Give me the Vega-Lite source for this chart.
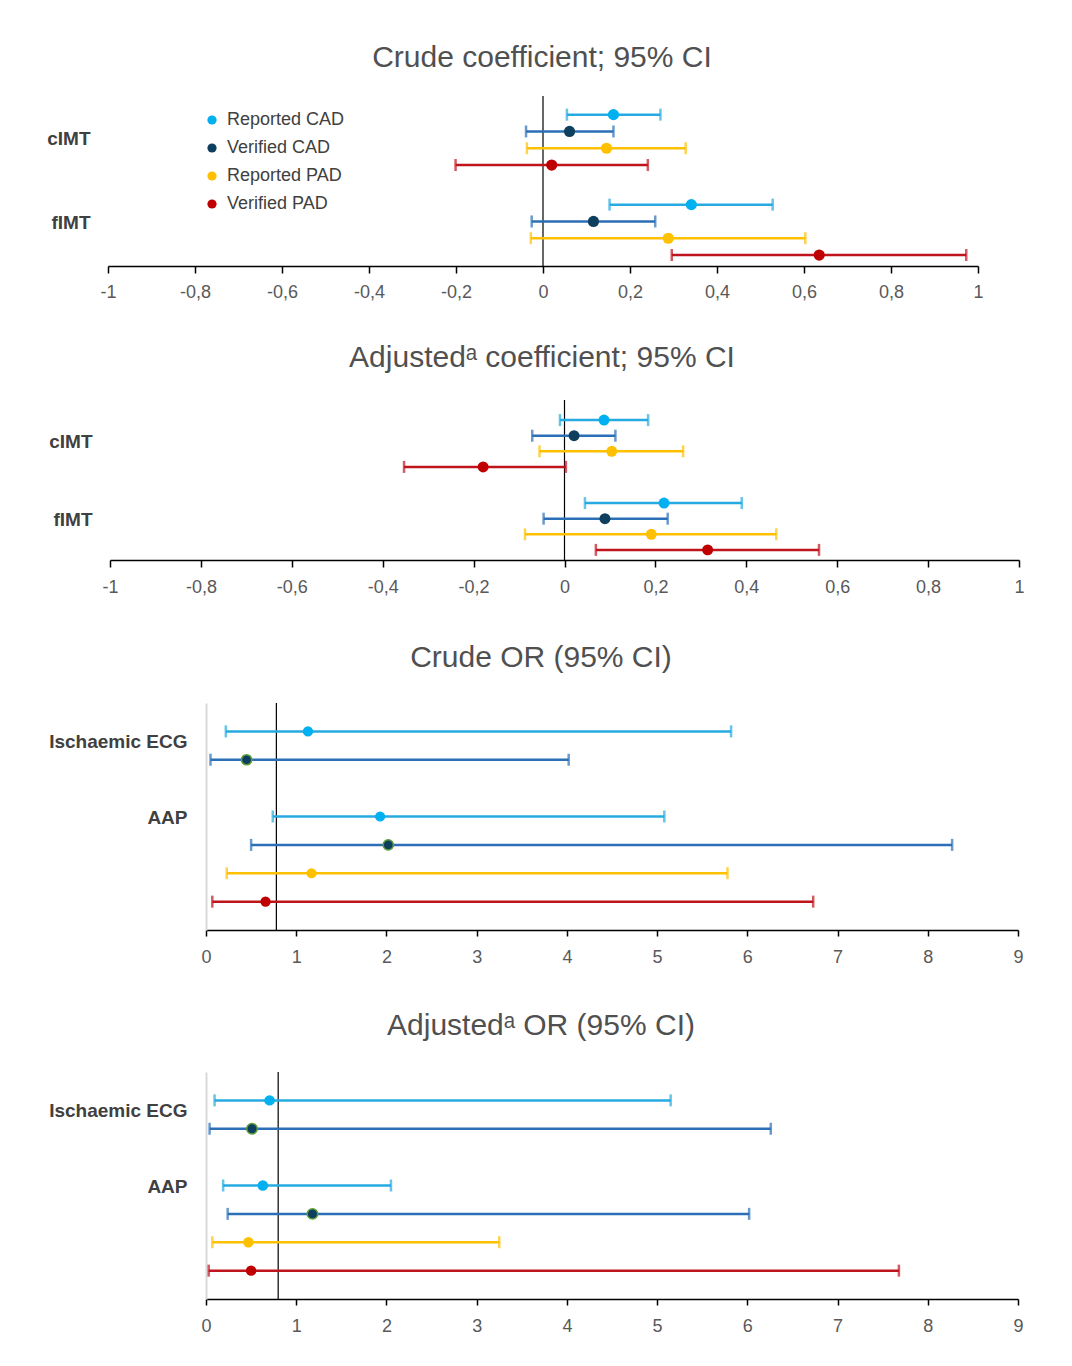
{
  "$schema": "https://vega.github.io/schema/vega-lite/v6.json",
  "padding": {"left": 5, "top": 43, "right": 5, "bottom": 5},
  "background": "white",
  "config": {
    "view": {"stroke": null},
    "font": "Liberation Sans",
    "axis": {"grid": false},
    "title": {"font": "Liberation Sans", "fontSize": 30, "fontWeight": "normal", "color": "#505050", "frame": "group", "anchor": "middle"}
  },
  "datasets": {
    "crude_coef": [
      {"outcome": "cIMT", "series": "Reported CAD", "est": 0.162, "lo": 0.055, "hi": 0.270},
      {"outcome": "cIMT", "series": "Verified CAD", "est": 0.061, "lo": -0.039, "hi": 0.162},
      {"outcome": "cIMT", "series": "Reported PAD", "est": 0.146, "lo": -0.037, "hi": 0.328},
      {"outcome": "cIMT", "series": "Verified PAD", "est": 0.020, "lo": -0.201, "hi": 0.241},
      {"outcome": "fIMT", "series": "Reported CAD", "est": 0.341, "lo": 0.153, "hi": 0.528},
      {"outcome": "fIMT", "series": "Verified CAD", "est": 0.116, "lo": -0.026, "hi": 0.258},
      {"outcome": "fIMT", "series": "Reported PAD", "est": 0.288, "lo": -0.028, "hi": 0.603},
      {"outcome": "fIMT", "series": "Verified PAD", "est": 0.635, "lo": 0.296, "hi": 0.973}
    ],
    "adj_coef": [
      {"outcome": "cIMT", "series": "Reported CAD", "est": 0.087, "lo": -0.010, "hi": 0.184},
      {"outcome": "cIMT", "series": "Verified CAD", "est": 0.021, "lo": -0.071, "hi": 0.112},
      {"outcome": "cIMT", "series": "Reported PAD", "est": 0.104, "lo": -0.055, "hi": 0.261},
      {"outcome": "cIMT", "series": "Verified PAD", "est": -0.179, "lo": -0.353, "hi": 0.003},
      {"outcome": "fIMT", "series": "Reported CAD", "est": 0.219, "lo": 0.045, "hi": 0.390},
      {"outcome": "fIMT", "series": "Verified CAD", "est": 0.089, "lo": -0.046, "hi": 0.227},
      {"outcome": "fIMT", "series": "Reported PAD", "est": 0.191, "lo": -0.087, "hi": 0.466},
      {"outcome": "fIMT", "series": "Verified PAD", "est": 0.315, "lo": 0.069, "hi": 0.560}
    ],
    "crude_or": [
      {"row": "Ischaemic ECG / Reported CAD", "series": "Reported CAD", "est": 1.13, "lo": 0.22, "hi": 5.82},
      {"row": "Ischaemic ECG / Verified CAD", "series": "Verified CAD", "est": 0.45, "lo": 0.05, "hi": 4.02},
      {"row": "AAP / Reported CAD", "series": "Reported CAD", "est": 1.93, "lo": 0.74, "hi": 5.08},
      {"row": "AAP / Verified CAD", "series": "Verified CAD", "est": 2.02, "lo": 0.50, "hi": 8.27},
      {"row": "AAP / Reported PAD", "series": "Reported PAD", "est": 1.17, "lo": 0.23, "hi": 5.78},
      {"row": "AAP / Verified PAD", "series": "Verified PAD", "est": 0.66, "lo": 0.07, "hi": 6.73}
    ],
    "adj_or": [
      {"row": "Ischaemic ECG / Reported CAD", "series": "Reported CAD", "est": 0.705, "lo": 0.095, "hi": 5.15},
      {"row": "Ischaemic ECG / Verified CAD", "series": "Verified CAD", "est": 0.51, "lo": 0.04, "hi": 6.26},
      {"row": "AAP / Reported CAD", "series": "Reported CAD", "est": 0.63, "lo": 0.19, "hi": 2.05},
      {"row": "AAP / Verified CAD", "series": "Verified CAD", "est": 1.18, "lo": 0.24, "hi": 6.02},
      {"row": "AAP / Reported PAD", "series": "Reported PAD", "est": 0.47, "lo": 0.07, "hi": 3.25},
      {"row": "AAP / Verified PAD", "series": "Verified PAD", "est": 0.50, "lo": 0.03, "hi": 7.68}
    ]
  },
  "resolve": {"scale": {"x": "independent", "y": "independent", "yOffset": "independent", "fill": "independent"}},
  "spacing": 47,
  "vconcat": [
    {
      "spacing": 42,
      "resolve": {"scale": {"x": "independent", "y": "independent", "yOffset": "independent", "fill": "independent"}},
      "vconcat": [
        {
          "spacing": 0,
          "hconcat": [
            {"width": 41, "height": 1, "data": {"values": []}, "mark": "point"},
            {
              "width": 870, "height": 170,
              "title": {"text": "Crude coefficient; 95% CI", "offset": 22, "dx": -1},
              "data": {"name": "crude_coef"},
              "layer": [
                {
                  "data": {"values": [{}]},
                  "mark": {"type": "rule", "color": "#000000", "strokeWidth": 1.2},
                  "encoding": {
                    "x": {"datum": 0, "type": "quantitative", "scale": {"domain": [-1, 1], "nice": false, "zero": false},
                      "axis": {"values": [-1, -0.8, -0.6, -0.4, -0.2, 0, 0.2, 0.4, 0.6, 0.8, 1], "labelExpr": "replace(toString(datum.value), '.', ',')", "title": null, "grid": false, "domainColor": "#000000", "domainWidth": 1.5, "tickColor": "#000000", "tickWidth": 1.5, "tickSize": 7, "labelFontSize": 18, "labelColor": "#595959", "labelPadding": 10, "labelFlush": false}}
                  }
                },
                {
                  "mark": {"type": "rule", "strokeWidth": 2.5},
                  "encoding": {
                    "x": {"field": "lo", "type": "quantitative"},
                    "x2": {"field": "hi"},
                    "y": {"field": "outcome", "type": "nominal", "sort": null,
                      "scale": {"type": "band", "domain": ["cIMT", "fIMT"], "paddingInner": 0.2533, "paddingOuter": 0.0711, "align": 0.8},
                      "axis": {"title": null, "ticks": false, "domain": false, "labelFontSize": 19, "labelFontWeight": "bold", "labelColor": "#404040", "labelPadding": 18, "labelOffset": {"condition": {"test": "datum.value === 'fIMT'", "value": -7}, "value": -0.5}}},
                    "yOffset": {"field": "series", "type": "nominal", "scale": {"domain": ["Reported CAD", "Verified CAD", "Reported PAD", "Verified PAD"], "paddingInner": 0, "paddingOuter": 0}},
                    "color": {"condition": [{"test": "datum.series === 'Reported CAD'", "value": "#25AAE1"}, {"test": "datum.series === 'Verified CAD'", "value": "#2B6FB6"}, {"test": "datum.series === 'Reported PAD'", "value": "#FFC000"}], "value": "#C0141C"}
                  }
                },
                {
                  "mark": {"type": "tick", "thickness": 2.5, "size": 12},
                  "encoding": {
                    "x": {"field": "lo", "type": "quantitative"},
                    "y": {"field": "outcome", "type": "nominal", "sort": null},
                    "yOffset": {"field": "series", "type": "nominal"},
                    "color": {"condition": [{"test": "datum.series === 'Reported CAD'", "value": "#25AAE1"}, {"test": "datum.series === 'Verified CAD'", "value": "#2B6FB6"}, {"test": "datum.series === 'Reported PAD'", "value": "#FFC000"}], "value": "#C0141C"}
                  }
                },
                {
                  "mark": {"type": "tick", "thickness": 2.5, "size": 12},
                  "encoding": {
                    "x": {"field": "hi", "type": "quantitative"},
                    "y": {"field": "outcome", "type": "nominal", "sort": null},
                    "yOffset": {"field": "series", "type": "nominal"},
                    "color": {"condition": [{"test": "datum.series === 'Reported CAD'", "value": "#25AAE1"}, {"test": "datum.series === 'Verified CAD'", "value": "#2B6FB6"}, {"test": "datum.series === 'Reported PAD'", "value": "#FFC000"}], "value": "#C0141C"}
                  }
                },
                {
                  "mark": {"type": "point", "filled": true, "size": 125, "opacity": 1},
                  "encoding": {
                    "x": {"field": "est", "type": "quantitative"},
                    "y": {"field": "outcome", "type": "nominal", "sort": null},
                    "yOffset": {"field": "series", "type": "nominal"},
                    "fill": {"field": "series", "type": "nominal", "scale": {"domain": ["Reported CAD", "Verified CAD", "Reported PAD", "Verified PAD"], "range": ["#00B0F0", "#0F3F5E", "#FFC000", "#C00000"]},
                      "legend": {"orient": "none", "legendX": 198, "legendY": 15, "title": null, "symbolType": "circle", "symbolSize": 85, "symbolStrokeWidth": 0, "labelFontSize": 18, "labelColor": "#404040", "labelOffset": 6, "rowPadding": 10, "padding": 0}}
                  }
                }
              ]
            }
          ]
        },
        {
          "spacing": 0,
          "hconcat": [
            {"width": 43, "height": 1, "data": {"values": []}, "mark": "point"},
            {
              "width": 909, "height": 160,
              "title": {"text": "Adjustedᵃ coefficient; 95% CI", "offset": 26, "dx": -22.5},
              "data": {"name": "adj_coef"},
              "layer": [
                {
                  "data": {"values": [{}]},
                  "mark": {"type": "rule", "color": "#000000", "strokeWidth": 1.2},
                  "encoding": {
                    "x": {"datum": 0, "type": "quantitative", "scale": {"domain": [-1, 1], "nice": false, "zero": false},
                      "axis": {"values": [-1, -0.8, -0.6, -0.4, -0.2, 0, 0.2, 0.4, 0.6, 0.8, 1], "labelExpr": "replace(toString(datum.value), '.', ',')", "title": null, "grid": false, "domainColor": "#000000", "domainWidth": 1.5, "tickColor": "#000000", "tickWidth": 1.5, "tickSize": 7, "labelFontSize": 18, "labelColor": "#595959", "labelPadding": 11, "labelFlush": false}}
                  }
                },
                {
                  "mark": {"type": "rule", "strokeWidth": 2.5},
                  "encoding": {
                    "x": {"field": "lo", "type": "quantitative"},
                    "x2": {"field": "hi"},
                    "y": {"field": "outcome", "type": "nominal", "sort": null,
                      "scale": {"type": "band", "domain": ["cIMT", "fIMT"], "paddingInner": 0.248, "paddingOuter": 0.088, "align": 0.842},
                      "axis": {"title": null, "ticks": false, "domain": false, "labelFontSize": 19, "labelFontWeight": "bold", "labelColor": "#404040", "labelPadding": 18, "labelOffset": {"condition": {"test": "datum.value === 'fIMT'", "value": -6.5}, "value": -1.5}}},
                    "yOffset": {"field": "series", "type": "nominal", "scale": {"domain": ["Reported CAD", "Verified CAD", "Reported PAD", "Verified PAD"], "paddingInner": 0, "paddingOuter": 0}},
                    "color": {"condition": [{"test": "datum.series === 'Reported CAD'", "value": "#25AAE1"}, {"test": "datum.series === 'Verified CAD'", "value": "#2B6FB6"}, {"test": "datum.series === 'Reported PAD'", "value": "#FFC000"}], "value": "#C0141C"}
                  }
                },
                {
                  "mark": {"type": "tick", "thickness": 2.5, "size": 12},
                  "encoding": {
                    "x": {"field": "lo", "type": "quantitative"},
                    "y": {"field": "outcome", "type": "nominal", "sort": null},
                    "yOffset": {"field": "series", "type": "nominal"},
                    "color": {"condition": [{"test": "datum.series === 'Reported CAD'", "value": "#25AAE1"}, {"test": "datum.series === 'Verified CAD'", "value": "#2B6FB6"}, {"test": "datum.series === 'Reported PAD'", "value": "#FFC000"}], "value": "#C0141C"}
                  }
                },
                {
                  "mark": {"type": "tick", "thickness": 2.5, "size": 12},
                  "encoding": {
                    "x": {"field": "hi", "type": "quantitative"},
                    "y": {"field": "outcome", "type": "nominal", "sort": null},
                    "yOffset": {"field": "series", "type": "nominal"},
                    "color": {"condition": [{"test": "datum.series === 'Reported CAD'", "value": "#25AAE1"}, {"test": "datum.series === 'Verified CAD'", "value": "#2B6FB6"}, {"test": "datum.series === 'Reported PAD'", "value": "#FFC000"}], "value": "#C0141C"}
                  }
                },
                {
                  "mark": {"type": "point", "filled": true, "size": 120, "opacity": 1},
                  "encoding": {
                    "x": {"field": "est", "type": "quantitative"},
                    "y": {"field": "outcome", "type": "nominal", "sort": null},
                    "yOffset": {"field": "series", "type": "nominal"},
                    "fill": {"field": "series", "type": "nominal", "scale": {"domain": ["Reported CAD", "Verified CAD", "Reported PAD", "Verified PAD"], "range": ["#00B0F0", "#0F3F5E", "#FFC000", "#C00000"]}, "legend": null}
                  }
                }
              ]
            }
          ]
        }
      ]
    },
    {
      "spacing": 45,
      "resolve": {"scale": {"x": "independent", "y": "independent", "fill": "independent"}},
      "vconcat": [
        {
          "spacing": 0,
          "hconcat": [
            {"width": 43, "height": 1, "data": {"values": []}, "mark": "point"},
            {
              "width": 812, "height": 227,
              "title": {"text": "Crude OR (95% CI)", "offset": 29, "dx": -71},
              "data": {"name": "crude_or"},
              "layer": [
                {
                  "data": {"values": [{}]},
                  "mark": {"type": "rule", "color": "#000000", "strokeWidth": 1.2},
                  "encoding": {
                    "x": {"datum": 0.78, "type": "quantitative", "scale": {"domain": [0, 9], "nice": false, "zero": false},
                      "axis": {"values": [0, 1, 2, 3, 4, 5, 6, 7, 8, 9], "format": "d", "title": null, "grid": false, "domainColor": "#000000", "domainWidth": 1.5, "tickColor": "#000000", "tickWidth": 1.5, "tickSize": 6, "labelFontSize": 18, "labelColor": "#595959", "labelPadding": 12, "labelFlush": false}}
                  }
                },
                {
                  "mark": {"type": "rule", "strokeWidth": 2.5},
                  "encoding": {
                    "x": {"field": "lo", "type": "quantitative"},
                    "x2": {"field": "hi"},
                    "y": {"field": "row", "type": "nominal", "sort": null,
                      "scale": {"type": "point", "domain": ["Ischaemic ECG / Reported CAD", "Ischaemic ECG / Verified CAD", "gap", "AAP / Reported CAD", "AAP / Verified CAD", "AAP / Reported PAD", "AAP / Verified PAD"], "padding": 1.054},
                      "axis": {"title": null, "ticks": false, "domain": true, "domainColor": "#D9D9D9", "domainWidth": 2, "labelExpr": "datum.value === 'Ischaemic ECG / Reported CAD' ? 'Ischaemic ECG' : datum.value === 'AAP / Reported CAD' ? 'AAP' : ''", "labelFontSize": 19, "labelFontWeight": "bold", "labelColor": "#404040", "labelPadding": 19, "labelOffset": {"condition": {"test": "datum.value === 'Ischaemic ECG / Reported CAD'", "value": 9.7}, "value": 0.7}}},
                    "color": {"condition": [{"test": "datum.series === 'Reported CAD'", "value": "#25AAE1"}, {"test": "datum.series === 'Verified CAD'", "value": "#2B6FB6"}, {"test": "datum.series === 'Reported PAD'", "value": "#FFC000"}], "value": "#C0141C"}
                  }
                },
                {
                  "mark": {"type": "tick", "thickness": 2.5, "size": 12},
                  "encoding": {
                    "x": {"field": "lo", "type": "quantitative"},
                    "y": {"field": "row", "type": "nominal", "sort": null},
                    "color": {"condition": [{"test": "datum.series === 'Reported CAD'", "value": "#25AAE1"}, {"test": "datum.series === 'Verified CAD'", "value": "#2B6FB6"}, {"test": "datum.series === 'Reported PAD'", "value": "#FFC000"}], "value": "#C0141C"}
                  }
                },
                {
                  "mark": {"type": "tick", "thickness": 2.5, "size": 12},
                  "encoding": {
                    "x": {"field": "hi", "type": "quantitative"},
                    "y": {"field": "row", "type": "nominal", "sort": null},
                    "color": {"condition": [{"test": "datum.series === 'Reported CAD'", "value": "#25AAE1"}, {"test": "datum.series === 'Verified CAD'", "value": "#2B6FB6"}, {"test": "datum.series === 'Reported PAD'", "value": "#FFC000"}], "value": "#C0141C"}
                  }
                },
                {
                  "mark": {"type": "point", "filled": true, "size": 105, "opacity": 1, "strokeWidth": 1.5},
                  "encoding": {
                    "x": {"field": "est", "type": "quantitative"},
                    "y": {"field": "row", "type": "nominal", "sort": null},
                    "fill": {"field": "series", "type": "nominal", "scale": {"domain": ["Reported CAD", "Verified CAD", "Reported PAD", "Verified PAD"], "range": ["#00B0F0", "#0F3F5E", "#FFC000", "#C00000"]}, "legend": null},
                    "stroke": {"condition": {"test": "datum.series === 'Verified CAD'", "value": "#5E9E3C"}, "value": "transparent"}
                  }
                }
              ]
            }
          ]
        },
        {
          "spacing": 0,
          "hconcat": [
            {"width": 43, "height": 1, "data": {"values": []}, "mark": "point"},
            {
              "width": 812, "height": 227,
              "title": {"text": "Adjustedᵃ OR (95% CI)", "offset": 30, "dx": -71},
              "data": {"name": "adj_or"},
              "layer": [
                {
                  "data": {"values": [{}]},
                  "mark": {"type": "rule", "color": "#000000", "strokeWidth": 1.2},
                  "encoding": {
                    "x": {"datum": 0.8, "type": "quantitative", "scale": {"domain": [0, 9], "nice": false, "zero": false},
                      "axis": {"values": [0, 1, 2, 3, 4, 5, 6, 7, 8, 9], "format": "d", "title": null, "grid": false, "domainColor": "#000000", "domainWidth": 1.5, "tickColor": "#000000", "tickWidth": 1.5, "tickSize": 6, "labelFontSize": 18, "labelColor": "#595959", "labelPadding": 12, "labelFlush": false}}
                  }
                },
                {
                  "mark": {"type": "rule", "strokeWidth": 2.5},
                  "encoding": {
                    "x": {"field": "lo", "type": "quantitative"},
                    "x2": {"field": "hi"},
                    "y": {"field": "row", "type": "nominal", "sort": null,
                      "scale": {"type": "point", "domain": ["Ischaemic ECG / Reported CAD", "Ischaemic ECG / Verified CAD", "gap", "AAP / Reported CAD", "AAP / Verified CAD", "AAP / Reported PAD", "AAP / Verified PAD"], "padding": 1.054},
                      "axis": {"title": null, "ticks": false, "domain": true, "domainColor": "#D9D9D9", "domainWidth": 2, "labelExpr": "datum.value === 'Ischaemic ECG / Reported CAD' ? 'Ischaemic ECG' : datum.value === 'AAP / Reported CAD' ? 'AAP' : ''", "labelFontSize": 19, "labelFontWeight": "bold", "labelColor": "#404040", "labelPadding": 19, "labelOffset": {"condition": {"test": "datum.value === 'Ischaemic ECG / Reported CAD'", "value": 9.7}, "value": 0.7}}},
                    "color": {"condition": [{"test": "datum.series === 'Reported CAD'", "value": "#25AAE1"}, {"test": "datum.series === 'Verified CAD'", "value": "#2B6FB6"}, {"test": "datum.series === 'Reported PAD'", "value": "#FFC000"}], "value": "#C0141C"}
                  }
                },
                {
                  "mark": {"type": "tick", "thickness": 2.5, "size": 12},
                  "encoding": {
                    "x": {"field": "lo", "type": "quantitative"},
                    "y": {"field": "row", "type": "nominal", "sort": null},
                    "color": {"condition": [{"test": "datum.series === 'Reported CAD'", "value": "#25AAE1"}, {"test": "datum.series === 'Verified CAD'", "value": "#2B6FB6"}, {"test": "datum.series === 'Reported PAD'", "value": "#FFC000"}], "value": "#C0141C"}
                  }
                },
                {
                  "mark": {"type": "tick", "thickness": 2.5, "size": 12},
                  "encoding": {
                    "x": {"field": "hi", "type": "quantitative"},
                    "y": {"field": "row", "type": "nominal", "sort": null},
                    "color": {"condition": [{"test": "datum.series === 'Reported CAD'", "value": "#25AAE1"}, {"test": "datum.series === 'Verified CAD'", "value": "#2B6FB6"}, {"test": "datum.series === 'Reported PAD'", "value": "#FFC000"}], "value": "#C0141C"}
                  }
                },
                {
                  "mark": {"type": "point", "filled": true, "size": 110, "opacity": 1, "strokeWidth": 1.5},
                  "encoding": {
                    "x": {"field": "est", "type": "quantitative"},
                    "y": {"field": "row", "type": "nominal", "sort": null},
                    "fill": {"field": "series", "type": "nominal", "scale": {"domain": ["Reported CAD", "Verified CAD", "Reported PAD", "Verified PAD"], "range": ["#00B0F0", "#0F3F5E", "#FFC000", "#C00000"]}, "legend": null},
                    "stroke": {"condition": {"test": "datum.series === 'Verified CAD'", "value": "#5E9E3C"}, "value": "transparent"}
                  }
                }
              ]
            }
          ]
        }
      ]
    }
  ]
}
